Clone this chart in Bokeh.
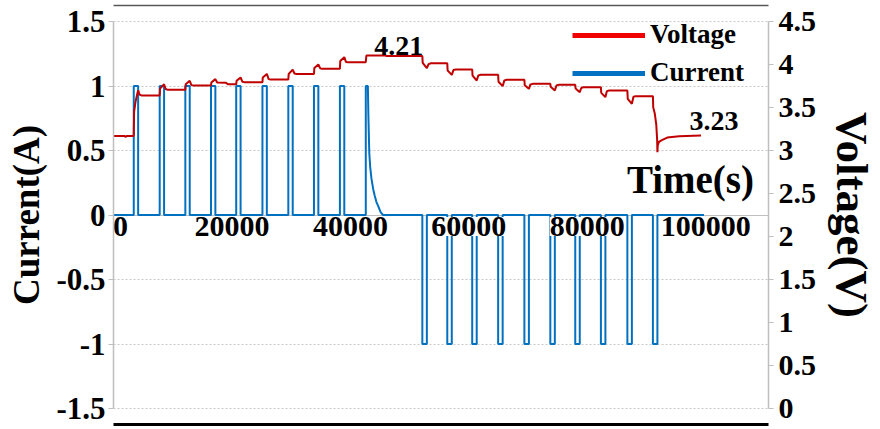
from bokeh.plotting import figure
from bokeh.models import (Range1d, LinearAxis, FixedTicker, CustomJSTickFormatter,
                          Legend, LegendItem)
from bokeh.core.properties import value
from bokeh.embed import file_html
from bokeh.resources import INLINE

# ---------------- data ----------------
# charge pulses (+1 A) and discharge pulses (-1 A): on / off times in seconds
charge_on = [3420, 7800, 12130, 16460, 20720, 25150, 29520, 33850, 38230]
charge_off = [4160, 8540, 12870, 17200, 21460, 25890, 30260, 34590, 38970]
# last charge pulse with constant-voltage taper
cv_t = [42600, 42600, 42950, 43050, 43190, 43350, 43565, 43850, 44120, 44400, 44680, 45130, 45520]
cv_a = [0, 1, 1, 0.75, 0.48, 0.37, 0.28, 0.2, 0.147, 0.1, 0.07, 0.02, 0]
discharge_on = [52150, 56360, 60570, 64950, 69380, 73760, 77970, 82300, 86770, 91080]
discharge_off = [52910, 57120, 61330, 65710, 70140, 74520, 78730, 83060, 87530, 91840]
t_end_current = 99700

volt_t = [0, 1800, 2000, 2300, 3420,
          3480, 3700, 3950, 4160, 4400, 4700, 7800,
          7860, 8540, 8800, 9200, 12130,
          12190, 12870, 13150, 13500, 16460,
          16520, 17200, 17500, 19000, 19300, 20720,
          20780, 21460, 21750, 22100, 25150,
          25210, 25890, 26200, 26500, 29520,
          29580, 30260, 30550, 30900, 33850,
          33910, 34590, 34900, 35200, 38230,
          38290, 38970, 39250, 39600, 42600,
          42700, 45900, 46100, 52150,
          52210, 52910, 53200, 53600, 56360,
          56420, 57120, 57400, 57800, 60570,
          60630, 61330, 61600, 62000, 64950,
          65010, 65710, 66000, 66400, 69380,
          69440, 70140, 70400, 70800, 73760,
          73820, 74520, 74800, 75200, 77970,
          78030, 78730, 79000, 79400, 82300,
          82360, 83060, 83300, 83700, 86770,
          86830, 87530, 87800, 88200, 91080,
          91140, 91400, 91650, 91800, 91840, 91900, 92100, 92600, 93500, 95500, 99200]
volt_v = [3.17, 3.17, 3.16, 3.17, 3.17,
          3.45, 3.56, 3.64, 3.70, 3.65, 3.64, 3.64,
          3.72, 3.77, 3.715, 3.705, 3.705,
          3.77, 3.81, 3.76, 3.755, 3.755,
          3.79, 3.83, 3.79, 3.787, 3.77, 3.77,
          3.81, 3.85, 3.80, 3.795, 3.795,
          3.85, 3.89, 3.83, 3.826, 3.826,
          3.89, 3.94, 3.895, 3.89, 3.89,
          3.96, 4.00, 3.955, 3.95, 3.95,
          4.04, 4.085, 4.03, 4.027, 4.027,
          4.105, 4.105, 4.098, 4.098,
          4.02, 3.957, 4.005, 4.015, 4.015,
          3.93, 3.88, 3.935, 3.942, 3.942,
          3.87, 3.814, 3.872, 3.88, 3.88,
          3.80, 3.748, 3.815, 3.822, 3.822,
          3.76, 3.717, 3.768, 3.775, 3.775,
          3.74, 3.698, 3.757, 3.764, 3.764,
          3.72, 3.678, 3.73, 3.736, 3.736,
          3.67, 3.62, 3.69, 3.698, 3.698,
          3.60, 3.543, 3.625, 3.632, 3.632,
          3.50, 3.43, 3.30, 3.12, 2.98, 3.06, 3.10, 3.12, 3.15, 3.165, 3.175]

x_ticks = [0, 20000, 40000, 60000, 80000, 100000]
x_tick_labels = ["0", "20000", "40000", "60000", "80000", "100000"]
current_ticks = [-1.5, -1, -0.5, 0, 0.5, 1, 1.5]
voltage_ticks = [0, 0.5, 1, 1.5, 2, 2.5, 3, 3.5, 4, 4.5]

ann_t = [48160, 101380]
ann_v = [4.22, 3.34]
ann_text = ["4.21", "3.23"]

series_names = ["Voltage", "Current"]
x_title = "Time(s)"
y_title = "Current(A)"
y2_title = "Voltage(V)"

# ---------------- build current waveform from the pulse lists ----------------
cur_t, cur_a = [0], [0]
for on, off in zip(charge_on, charge_off):
    cur_t += [on, on, off, off]
    cur_a += [0, 1, 1, 0]
cur_t += cv_t
cur_a += cv_a
for on, off in zip(discharge_on, discharge_off):
    cur_t += [on, on, off, off]
    cur_a += [0, -1, -1, 0]
cur_t.append(t_end_current)
cur_a.append(0)

# ---------------- layout geometry (page has no margin: figure at 0,0) ----------------
W, H = 880, 429
frame_top, frame_bot = 5, 424          # page px
c_hi_px, c_lo_px = 21, 408            # page px of +1.5 / -1.5
ppu = (c_lo_px - c_hi_px) / 3.0
c_top = 1.5 + (c_hi_px - frame_top) / ppu
c_bot = -1.5 - (frame_bot - c_lo_px) / ppu
v_top = (c_top + 1.5) * 1.5
v_bot = (c_bot + 1.5) * 1.5

FONT = value("Liberation Serif")
RED = "#C00000"
BLUE = "#0070C0"
GRID = "#C8C8C8"

p = figure(width=W, height=H, output_backend="svg", toolbar_location=None,
           x_range=Range1d(0, 110600), y_range=Range1d(c_bot, c_top),
           x_axis_location=None, y_axis_location="left",
           min_border_left=113, min_border_right=110,
           min_border_top=frame_top, min_border_bottom=H - frame_bot)
p.outline_line_color = None
p.background_fill_color = "white"
p.border_fill_color = "white"
p.extra_y_ranges = {"volt": Range1d(v_bot, v_top)}

fmt = CustomJSTickFormatter(code="return tick.toString();")

# left axis
ya = p.yaxis[0]
ya.ticker = FixedTicker(ticks=current_ticks)
ya.formatter = fmt
ya.bounds = (current_ticks[0], current_ticks[-1])
ya.axis_line_color = "#BFBFBF"
ya.axis_line_width = 1.5
ya.major_tick_line_color = "#BFBFBF"
ya.major_tick_out = 5
ya.major_tick_in = 0
ya.minor_tick_line_color = None
ya.major_label_standoff = 3
ya.major_label_text_font = "Liberation Serif"
ya.major_label_text_font_style = "bold"
ya.major_label_text_font_size = "31px"
ya.major_label_text_color = "black"
ya.axis_label = y_title
ya.axis_label_text_font = "Liberation Serif"
ya.axis_label_text_font_style = "bold"
ya.axis_label_text_font_size = "37px"
ya.axis_label_text_color = "black"
ya.axis_label_standoff = 6

# right axis
ra = LinearAxis(y_range_name="volt", ticker=FixedTicker(ticks=voltage_ticks), formatter=fmt)
ra.bounds = (voltage_ticks[0], voltage_ticks[-1])
ra.axis_line_color = "#BFBFBF"
ra.axis_line_width = 1.5
ra.major_tick_line_color = "#BFBFBF"
ra.major_tick_out = 5
ra.major_tick_in = 0
ra.minor_tick_line_color = None
ra.major_label_standoff = 5
ra.major_label_text_font = "Liberation Serif"
ra.major_label_text_font_style = "bold"
ra.major_label_text_font_size = "30px"
ra.major_label_text_color = "black"
ra.axis_label = y2_title
ra.axis_label_text_font = "Liberation Serif"
ra.axis_label_text_font_style = "bold"
ra.axis_label_text_font_size = "45px"
ra.axis_label_text_color = "black"
ra.axis_label_standoff = 8
p.add_layout(ra, "right")

# top thin frame line and bottom thick rule
def bare_axis(color, width):
    ax = LinearAxis(ticker=FixedTicker(ticks=[]), major_tick_out=0, major_tick_in=0,
                    minor_tick_out=0, minor_tick_in=0, major_label_standoff=0,
                    major_label_text_font_size="0px")
    ax.axis_line_color = color
    ax.axis_line_width = width
    return ax

p.add_layout(bare_axis("#595959", 1.5), "above")
p.add_layout(bare_axis("black", 3), "below")

# grid
p.ygrid.ticker = FixedTicker(ticks=current_ticks)
p.ygrid.grid_line_color = GRID
p.ygrid.grid_line_dash = "2 2"
p.ygrid.grid_line_width = 1
p.xgrid.grid_line_color = None

# horizontal category axis line at current = 0
p.hspan(y=[0], line_color="#BFBFBF", line_width=1)

# series
p.line(cur_t, cur_a, line_color=BLUE, line_width=2)
p.line(volt_t, volt_v, line_color=RED, line_width=2, y_range_name="volt")

# x tick labels drawn at the zero line (first one nudged inside the frame)
x_label_shift = [7, 0, 0, 0, 0, 0]
p.text(x=x_ticks, y=[0] * len(x_ticks), text=x_tick_labels, x_offset=x_label_shift,
       text_font=FONT, text_font_style="bold", text_font_size="30px",
       text_color="black", text_align="center", text_baseline="top",
       y_offset=2, background_fill_color="white")

# x title
p.text(x=[97420], y=[0.279], text=[x_title], text_font=FONT, text_font_style="bold",
       text_font_size="39px", text_color="black", text_align="center",
       text_baseline="middle")

# annotations
p.text(x=ann_t, y=ann_v, text=ann_text, text_font=FONT, text_font_style="bold",
       text_font_size="28px", text_color="black", text_align="center",
       text_baseline="middle", y_range_name="volt")

# legend proxies (thicker sample lines, no visible data)
nan = float("nan")
lv = p.line([nan], [nan], line_color="#F00000", line_width=5)
lc = p.line([nan], [nan], line_color=BLUE, line_width=5)
legend = Legend(items=[LegendItem(label=series_names[0], renderers=[lv]),
                       LegendItem(label=series_names[1], renderers=[lc])],
                location=(459, 336), orientation="vertical",
                glyph_width=73, glyph_height=30, label_height=30, spacing=7,
                padding=0, margin=0, label_standoff=5,
                label_text_font="Liberation Serif", label_text_font_style="bold",
                label_text_font_size="27px", label_text_color="black",
                background_fill_alpha=0, border_line_alpha=0)
p.add_layout(legend)

open("out.html", "w").write(file_html(p, INLINE))
